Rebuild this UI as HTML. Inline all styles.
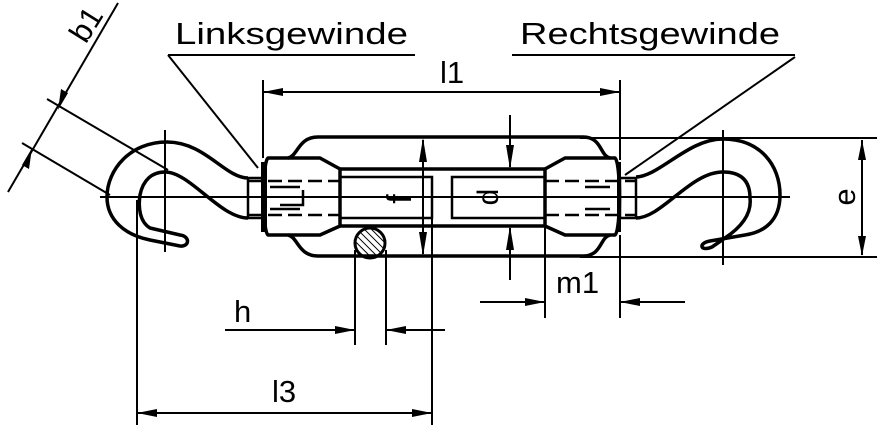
<!DOCTYPE html>
<html><head><meta charset="utf-8"><style>html,body{margin:0;padding:0;background:#fff}svg{display:block}</style></head>
<body>
<svg width="877" height="431" viewBox="0 0 877 431" xmlns="http://www.w3.org/2000/svg" font-family="Liberation Sans, sans-serif" fill="none" stroke="#000">
<defs>
<pattern id="hat" width="5" height="5" patternUnits="userSpaceOnUse" patternTransform="rotate(-45)"><line x1="0" y1="0" x2="0" y2="5" stroke="#000" stroke-width="2"/></pattern>
</defs>
<g fill="#000" stroke="none" font-size="31">
<text x="175" y="44" textLength="233" lengthAdjust="spacingAndGlyphs">Linksgewinde</text>
<text x="520" y="44" textLength="260" lengthAdjust="spacingAndGlyphs">Rechtsgewinde</text>
<text x="440" y="83">l1</text>
<text x="556" y="293">m1</text>
<text x="234" y="322">h</text>
<text x="272" y="402">l3</text>
<text transform="translate(855,197) rotate(-90)" text-anchor="middle">e</text>
<text transform="translate(95,30) rotate(-58)" text-anchor="middle">b1</text>
<text transform="translate(411,199) rotate(-90)" text-anchor="middle" font-size="34">f</text>
<text transform="translate(498,197) rotate(-90)" text-anchor="middle" font-size="30">d</text>
</g>
<g stroke-width="2">
<line x1="168" y1="55" x2="415" y2="55"/><line x1="168" y1="55" x2="258" y2="168"/>
<line x1="512" y1="55" x2="795" y2="55"/><line x1="795" y1="57" x2="625" y2="175"/>
<line x1="263" y1="80" x2="263" y2="158"/><line x1="620" y1="80" x2="620" y2="160"/>
<line x1="263" y1="92" x2="620" y2="92"/>
<line x1="100" y1="197" x2="790" y2="197"/>
<line x1="165" y1="130" x2="165" y2="252"/><line x1="723" y1="130" x2="723" y2="265"/>
<line x1="580" y1="138" x2="877" y2="138"/><line x1="580" y1="257" x2="877" y2="257"/>
<line x1="862" y1="140" x2="862" y2="255"/>
<line x1="47" y1="99" x2="168" y2="170"/><line x1="22" y1="143" x2="110" y2="195"/>
<line x1="118" y1="3" x2="8" y2="192"/>
<line x1="423" y1="140" x2="423" y2="254"/>
<line x1="510" y1="115" x2="510" y2="167"/><line x1="510" y1="228" x2="510" y2="280"/>
<line x1="545" y1="226" x2="545" y2="318"/><line x1="620" y1="235" x2="620" y2="318"/>
<line x1="480" y1="302" x2="545" y2="302"/><line x1="685" y1="302" x2="620" y2="302"/>
<line x1="355" y1="250" x2="355" y2="345"/><line x1="386" y1="250" x2="386" y2="345"/>
<line x1="225" y1="330" x2="355" y2="330"/><line x1="445" y1="330" x2="386" y2="330"/>
<line x1="432" y1="218" x2="432" y2="425"/><line x1="137" y1="200" x2="137" y2="425"/>
<line x1="137" y1="413" x2="432" y2="413"/>
</g>
<g fill="#000" stroke="none">
<path d="M263,92 l20,-4 v8z"/><path d="M620,92 l-20,-4 v8z"/>
<path d="M862,140 l-4,20 h8z"/><path d="M862,256 l-4,-20 h8z"/>
<path d="M423,138 l-4,24 h8z"/><path d="M423,256 l-4,-24 h8z"/>
<path d="M510,169 l-4,-24 h8z"/><path d="M510,226 l-4,24 h8z"/>
<path d="M545,302 l-20,-4 v8z"/><path d="M620,302 l20,-4 v8z"/>
<path d="M355,330 l-20,-4 v8z"/><path d="M386,330 l20,-4 v8z"/>
<path d="M137,413 l20,-4 v8z"/><path d="M432,413 l-20,-4 v8z"/>
<path d="M58,110 l3,-21 l7,4z"/><path d="M32,148 l-3,21 l-7,-4z"/>
</g>
<circle cx="370" cy="243" r="15" fill="url(#hat)" stroke-width="3"/>
<g stroke-width="3.5" stroke-linejoin="round">
<path d="M288,158 C298,156 298,137 318,137 L583,137 C602,137 600,156 610,158"/>
<path d="M288,235 C298,237 298,256 318,256 L583,256 C602,256 600,237 610,235"/>
<path d="M268,158 L320,158 L340,169 L340,226 L320,235 L268,235 C262,230 262,163 268,158 Z"/>
<path d="M615,158 L565,158 L545,169 L545,226 L565,235 L615,235 C621,230 621,163 615,158 Z"/>
<line x1="340" y1="169" x2="545" y2="169"/><line x1="340" y1="226" x2="545" y2="226"/>
<line x1="264" y1="162" x2="264" y2="232" stroke-width="6"/>
<line x1="619" y1="162" x2="619" y2="232" stroke-width="4"/>
<path d="M248,178 C225,178 205,142 167,142 C130,142 107,170 107,197 C107,220 125,235 150,240 L180,246 C190,247 190,236 180,235 L150,228 C140,222 138,208 140,195 C143,180 152,172 165,172 C190,172 220,218 248,218"/>
<path d="M636,177 C660,176 688,139 723,139 C760,139 780,165 780,195 C780,220 765,232 745,235 L710,241 C698,243 700,252 712,247 L725,238 C740,228 752,215 750,198 C750,185 745,172 723,172 C690,172 662,218 636,218"/>
</g>
<g stroke-width="2.5">
<rect x="248" y="178" width="15" height="40"/><rect x="620" y="178" width="16" height="40"/>
<rect x="340" y="177" width="92" height="41"/><rect x="452" y="177" width="93" height="41"/>
<path d="M248,181 H340 M248,215 H340 M545,181 H636 M545,215 H636" stroke-dasharray="14,6"/>
<path d="M270,187 H300 M270,209 H300 M585,187 H610 M585,209 H610"/>
<path d="M303,190 V205 H280"/>
</g>
</svg>
</body></html>
